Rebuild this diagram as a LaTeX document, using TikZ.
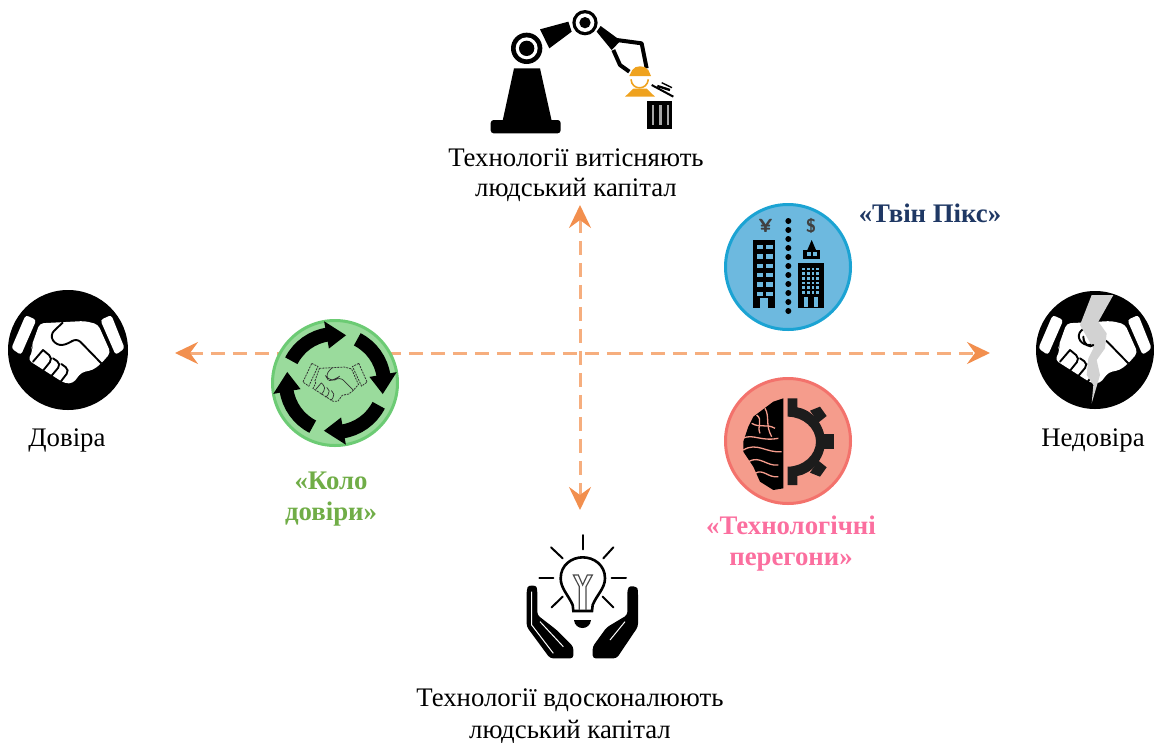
\documentclass[tikz,border=0pt]{standalone}
\usepackage{fontspec}
\setmainfont{Liberation Serif}
\usetikzlibrary{arrows.meta}
\definecolor{axisor}{HTML}{F6AE7E}
\definecolor{tipor}{HTML}{F28F4E}
\definecolor{workor}{HTML}{EFA21E}
\definecolor{bluefill}{HTML}{6DB9DF}
\definecolor{blueedge}{HTML}{1BA3D3}
\definecolor{redfill}{HTML}{F59C8C}
\definecolor{rededge}{HTML}{F3726C}
\definecolor{greenfill}{HTML}{9ADB9C}
\definecolor{greenedge}{HTML}{6CCB74}
\definecolor{navytxt}{HTML}{1F3864}
\definecolor{greentxt}{HTML}{70AD47}
\definecolor{pinktxt}{HTML}{FB6F9F}
\definecolor{crack}{HTML}{D2D2D2}
\definecolor{gearblk}{HTML}{1C1C1C}
\tikzset{
  axisline/.style={draw=axisor,line width=3pt,dash pattern=on 14pt off 8pt,
    {Stealth[length=23pt,width=22pt,inset=8pt,color=tipor]}-{Stealth[length=23pt,width=22pt,inset=8pt,color=tipor]}},
  lab/.style={font=\fontsize{26.8}{30}\selectfont,align=center,text=black,inner sep=0pt},
  blab/.style={lab,font=\fontsize{26.8}{31}\selectfont\bfseries},
  disc/.style={circle,minimum size=#1,inner sep=0pt}
}
\newcommand{\handblob}{(-85,-80) -- (50,-87) -- (90,-77) -- (128,8) -- (100,40) -- (75,60) -- (40,67) -- (15,100) -- (-10,100) -- (-120,30) -- (-105,0) -- (-110,-10) -- cycle}
\newcommand{\handlines}[1]{%
  \draw[#1,line join=round,rounded corners=6pt] (-15,-83) -- (-55,-45) -- (-35,-13) -- (0,-17) -- (25,-37) -- (100,40);
  \draw[#1,line cap=round] (-75,0) -- (-105,35);
  \draw[#1,line cap=round,rounded corners=5pt] (-75,0) -- (-45,25) -- (-75,62);
  \draw[#1,line cap=round,rounded corners=5pt] (-45,25) -- (-20,42) -- (-50,78);
  \draw[#1,line cap=round,rounded corners=5pt] (-20,42) -- (5,60) -- (-22,95);
}
\newcommand{\cuffs}[1]{%
  \fill[#1,rounded corners=3pt] (-127,-105) -- (-95,-90) -- (-141,15) -- (-170,-5) -- cycle;
  \fill[#1,rounded corners=3pt] (130,-105) -- (97,-90) -- (143,15) -- (170,-5) -- cycle;
}
\begin{document}
\begin{tikzpicture}[x=1pt,y=-1pt]
\useasboundingbox (0,0) rectangle (1154,742);
\coordinate (axL) at (175,353);
\coordinate (axR) at (990,353);
\coordinate (axT) at (580,205);
\coordinate (axB) at (580,510);
\draw[axisline] (axL) -- (axR);
\draw[axisline] (axT) -- (axB);

% trust
\node[disc=120pt,fill=black] (trust) at (68,350) {};
\begin{scope}[shift={(trust.center)},scale=1/3]
  \cuffs{white}
  \fill[white,rounded corners=4pt] \handblob;
  \handlines{line width=1.9pt,black}
\end{scope}
\node[lab] (trustl) at (67,440) {Довіра};

% distrust
\node[disc=118pt,fill=black] (distrust) at (1095,350) {};
\begin{scope}[shift={(distrust.center)},scale=1/3]
  \cuffs{white}
  \fill[white,rounded corners=4pt] \handblob;
  \handlines{line width=1.9pt,black}
  \fill[crack] (-10,-165) -- (55,-165) -- (10,-85) -- (35,-50) -- (30,-5) -- (5,30) -- (15,75) -- (-10,160) -- (-5,105) -- (-25,75) -- (-20,25) -- (-5,-5) -- (-45,-75) -- cycle;
  \draw[line width=2pt,black,line cap=round] (-35,-40) .. controls (-35,-15) and (-15,-5) .. (-5,-15);
\end{scope}
\node[lab] (distrustl) at (1093,440) {Недовіра};

% robot
\begin{scope}[shift={(470,0)},scale=1/3]
  \fill[black,rounded corners=3pt] (62,360) rectangle (272,400);
  \fill[black] (132,205) -- (210,205) -- (245,362) -- (98,362) -- cycle;
  \fill[black] (210,88) -- (295,65) -- (305,95) -- (238,145) -- cycle;
  \fill[black] (170,145) circle (47);
  \fill[white] (170,145) circle (33);
  \fill[black] (170,145) circle (23);
  \fill[black] (345,68) circle (38);
  \fill[white] (345,68) circle (28);
  \fill[black] (345,68) circle (17);
  \fill[black] (392,78) -- (380,95) -- (425,150) -- (452,122) -- cycle;
  \draw[black,line width=4pt,line join=round] (440,120) -- (515,130) -- (530,205);
  \draw[black,line width=4pt,line join=round] (430,150) -- (450,195) -- (478,215);
  \fill[workor] (478,228) -- (543,228) -- (535,210) .. controls (525,195) and (495,195) .. (487,210) -- cycle;
  \draw[workor,line width=1.6pt] (483,238) .. controls (485,272) and (532,272) .. (535,238);
  \fill[workor] (465,290) -- (490,266) -- (530,266) -- (555,290) -- cycle;
  \draw[black,line width=2pt] (545,255) -- (610,290);
  \draw[black,line width=2.4pt] (562,258) -- (600,270);
  \draw[black,line width=1.4pt] (575,248) -- (606,263);
  \fill[black] (532,303) rectangle (606,386);
  \foreach \xx in {545,568,590} \fill[gray!70] (\xx,315) rectangle (\xx+8,375);
\end{scope}
\node[lab] (toplab) at (576,175) {Технології витісняють\\людський капітал};

% twin peaks
\node[disc=125pt,fill=bluefill,draw=blueedge,line width=3pt] (twin) at (788,267) {};
\begin{scope}[shift={(710,195)},scale=1/3]
  \fill[black] (130,135) rectangle (195,340);
  \foreach \yy in {150,178,206,234,262,290}
    \foreach \xx in {140,168} \fill[bluefill] (\xx,\yy) rectangle (\xx+20,\yy+13);
  \fill[bluefill] (150,310) rectangle (175,340);
  \foreach \yy in {78,105,...,355} \fill[black] (235,\yy) circle (9);
  \fill[black] (265,205) rectangle (342,340);
  \fill[black] (280,165) rectangle (330,192);
  \fill[bluefill] (290,172) rectangle (302,184);
  \fill[bluefill] (308,172) rectangle (320,184);
  \fill[black] (292,165) -- (305,135) -- (318,165) -- cycle;
  \foreach \yy in {218,232,246,260,274,288} \foreach \xx in {277,291,305,319}
    \fill[bluefill] (\xx,\yy) rectangle (\xx+8,\yy+8);
  \fill[bluefill] (282,305) rectangle (294,335);
  \fill[bluefill] (313,305) rectangle (325,335);
  \node[font=\fontsize{19}{19}\selectfont\sffamily\bfseries,text=black!75,inner sep=0pt] (yen) at (167,92) {¥};
  \node[font=\fontsize{19}{19}\selectfont\sffamily\bfseries,text=black!75,inner sep=0pt] (usd) at (303,92) {\$};
\end{scope}
\node[blab,text=navytxt] (twinl) at (930,213) {«Твін Пікс»};

% brain / gear
\node[disc=125pt,fill=redfill,draw=rededge,line width=3pt] (race) at (788,441) {};
\begin{scope}[shift={(710,370)},scale=1/3]
  \fill[black] (220,85) -- (220,355) -- (190,360) -- (150,335) -- (130,290) -- (100,245) -- (100,215) -- (115,170) -- (130,140) -- (170,110) -- (190,95) -- cycle;
  \foreach \pth in {
    {(98,205) .. controls (130,190) and (150,215) .. (205,205)},
    {(100,240) .. controls (140,215) and (170,250) .. (215,245)},
    {(115,275) .. controls (150,255) and (170,290) .. (205,285)},
    {(135,310) .. controls (160,295) and (175,325) .. (205,320)},
    {(125,160) .. controls (150,175) and (170,160) .. (195,175)},
    {(165,115) .. controls (180,140) and (165,165) .. (185,200)},
    {(140,135) .. controls (160,150) and (140,170) .. (150,190)}}
    \draw[redfill,line width=1.3pt] \pth;
  \fill[gearblk] (233,85) -- (262,85) -- (262,112) .. controls (305,118) and (345,165) .. (345,215) .. controls (345,265) and (305,312) .. (262,318) -- (262,345) -- (233,345) -- (233,290) .. controls (280,290) and (318,255) .. (318,215) .. controls (318,175) and (280,140) .. (233,140) -- cycle;
  \fill[gearblk] (300,122) -- (330,110) -- (350,138) -- (325,158) -- cycle;
  \fill[gearblk] (300,308) -- (330,320) -- (350,292) -- (325,272) -- cycle;
  \fill[gearblk] (340,192) rectangle (372,238);
\end{scope}
\node[blab,text=pinktxt] (racel) at (791,544) {«Технологічні\\перегони»};

% circle of trust
\node[disc=125pt,fill=greenfill,draw=greenedge,line width=3pt] (circ) at (335,383) {};
\begin{scope}[shift={(circ.center)},scale=1/3]
  \foreach \r in {0,90,180,270}{
    \begin{scope}[rotate=\r]
    \draw[black,line width=14pt] (207:147) arc[start angle=207,end angle=262,radius=147];
    \fill[black] (260:105) -- (260:188) -- (283:147) -- cycle;
    \end{scope}}
  \begin{scope}[scale=0.55]
    \draw[gray!40!black,line width=0.8pt,dash pattern=on 2pt off 1pt] \handblob;
    \draw[gray!40!black,line width=0.8pt,dash pattern=on 2pt off 1pt] (-127,-107) -- (-93,-90) -- (-143,17) -- (-175,-5) -- cycle;
    \draw[gray!40!black,line width=0.8pt,dash pattern=on 2pt off 1pt] (130,-107) -- (95,-90) -- (145,17) -- (175,-5) -- cycle;
    \handlines{line width=0.7pt,gray!40!black}
  \end{scope}
\end{scope}
\node[blab,text=greentxt] (circl) at (331,499.5) {«Коло\\довіри»};

% bulb
\begin{scope}[shift={(510,530)},scale=1/3]
  \draw[black,line width=2.6pt] (190,243) -- (188,225) .. controls (175,195) and (152,175) .. (152,145) .. controls (152,105) and (185,82) .. (218,82) .. controls (252,82) and (285,105) .. (285,145) .. controls (285,175) and (260,195) .. (248,225) -- (246,243) -- cycle;
  \draw[black!70,line width=1.2pt] (208,240) -- (208,170) -- (190,135) -- (205,135) -- (218,165) -- (232,135) -- (247,135) -- (228,170) -- (228,240);
  \fill[black] (192,270) -- (243,270) .. controls (240,302) and (195,302) .. (192,270) -- cycle;
  \foreach \a/\b/\c/\d in {218/15/218/58, 123/52/158/85, 310/52/280/85, 88/143/130/143, 305/143/348/143, 125/232/158/200, 310/232/278/200}
    \draw[black,line width=2pt,line cap=round] (\a,\b) -- (\c,\d);
  % right hand
  \fill[black,rounded corners=3pt] (352,180) .. controls (360,165) and (382,170) .. (384,185) -- (384,290) -- (320,385) -- (248,385) -- (248,350) -- (290,292) -- (352,255) -- cycle;
  \draw[white,line width=1pt] (345,275) -- (300,330);
  % left hand
  \fill[black,rounded corners=3pt] (50,180) .. controls (55,165) and (78,165) .. (82,180) -- (82,255) -- (140,300) -- (190,350) -- (190,385) -- (120,385) -- (50,290) -- cycle;
  \draw[white,line width=1pt] (65,185) -- (65,285) -- (130,370);
  \draw[white,line width=1pt] (90,275) -- (160,350);
\end{scope}
\node[lab,font=\fontsize{26.8}{32}\selectfont] (botlab) at (570,716) {Технології вдосконалюють\\людський капітал};
\end{tikzpicture}
\end{document}
